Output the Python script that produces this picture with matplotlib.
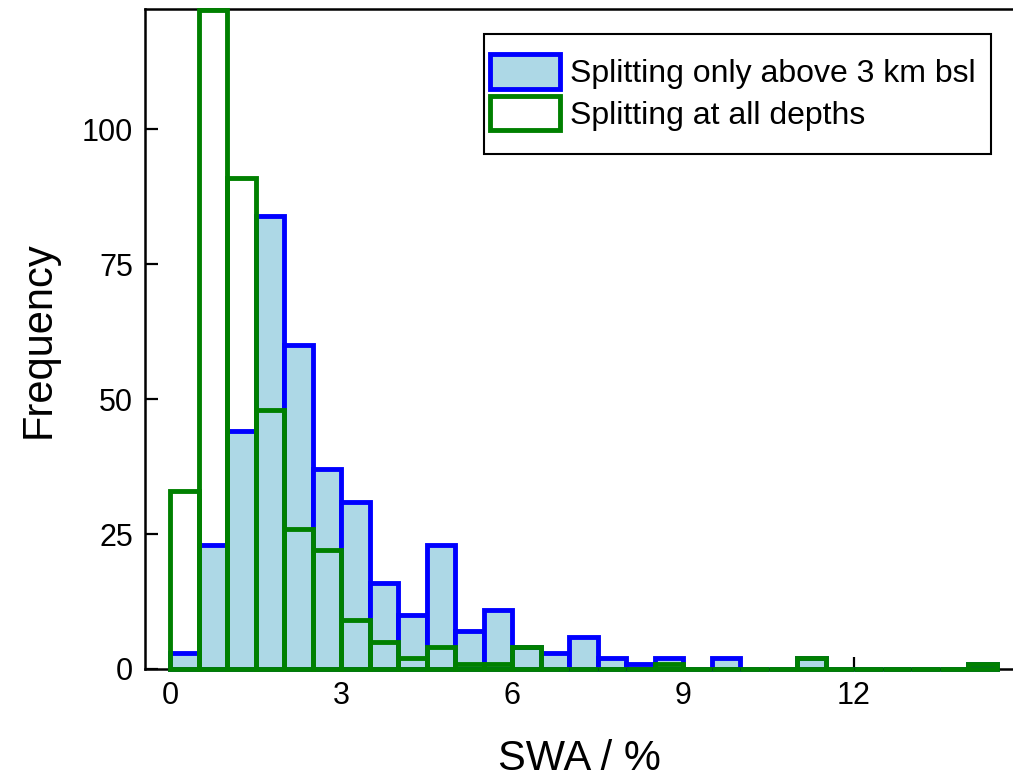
import matplotlib
matplotlib.use("Agg")
import matplotlib.pyplot as plt
from matplotlib.patches import Rectangle

plt.rcParams['font.family'] = ['Liberation Sans', 'DejaVu Sans']

bin_edges = [i * 0.5 for i in range(29)]  # left edges 0 .. 14, width 0.5
bin_width = 0.5

# Splitting only above 3 km bsl (blue, filled)
blue_counts = [3, 23, 44, 84, 60, 37, 31, 16, 10, 23, 7, 11, 4, 3, 6, 2, 1, 2,
               0, 2, 0, 0, 2, 0, 0, 0, 0, 0, 1]
# Splitting at all depths (green, outline)
green_counts = [33, 122, 91, 48, 26, 22, 9, 5, 2, 4, 1, 1, 4, 0, 0, 0, 0, 1,
                0, 0, 0, 0, 2, 0, 0, 0, 0, 0, 1]

xticks = [0, 3, 6, 9, 12]
yticks = [0, 25, 50, 75, 100]
labels = ["Splitting only above 3 km bsl", "Splitting at all depths"]

W, H = 1013, 778
fig = plt.figure(figsize=(W / 100, H / 100), dpi=100)
ax = fig.add_axes([145 / W, 1 - 669 / H, 1 - 145 / W, (669 - 9.3) / H])

left = bin_edges[:len(blue_counts)]
b1 = ax.bar(left, blue_counts, width=bin_width, align='edge',
            facecolor='#add8e6', edgecolor='#0000ff', linewidth=3.5,
            label=labels[0], zorder=2, clip_on=False)
b2 = ax.bar(left, green_counts, width=bin_width, align='edge',
            facecolor='none', edgecolor='#008000', linewidth=3.5,
            label=labels[1], zorder=3, clip_on=False)

ax.set_xlim(-25 / 57, (W - 170) / 57)
ax.set_ylim(0, 122.2)
ax.set_xticks(xticks)
ax.set_yticks(yticks)
ax.tick_params(direction='in', length=9, width=1.6, labelsize=22, pad=8.5)
ax.tick_params(axis='x', pad=9)
for s in ['left', 'top', 'bottom']:
    ax.spines[s].set_linewidth(1.8)
ax.spines['right'].set_visible(False)

ax.set_xlabel("SWA / %", fontsize=30, labelpad=20)
ax.set_ylabel("Frequency", fontsize=30, labelpad=17)

# legend frame drawn separately
frame = Rectangle((484 / W, 1 - 154 / H), (991 - 484) / W, (154 - 34) / H,
                  transform=fig.transFigure, facecolor='white',
                  edgecolor='black', linewidth=1.5, zorder=5)
fig.patches.append(frame)

leg = fig.legend(handles=[b1, b2], labels=labels, loc='upper left',
                 bbox_to_anchor=(490 / W, 1 - 54 / H),
                 bbox_transform=fig.transFigure, fontsize=23,
                 frameon=False, borderpad=0, labelspacing=0.2,
                 handlelength=2.2, handleheight=1.3, handletextpad=0.3,
                 borderaxespad=0)
leg.set_zorder(6)

fig.savefig("out.png", dpi=100)
